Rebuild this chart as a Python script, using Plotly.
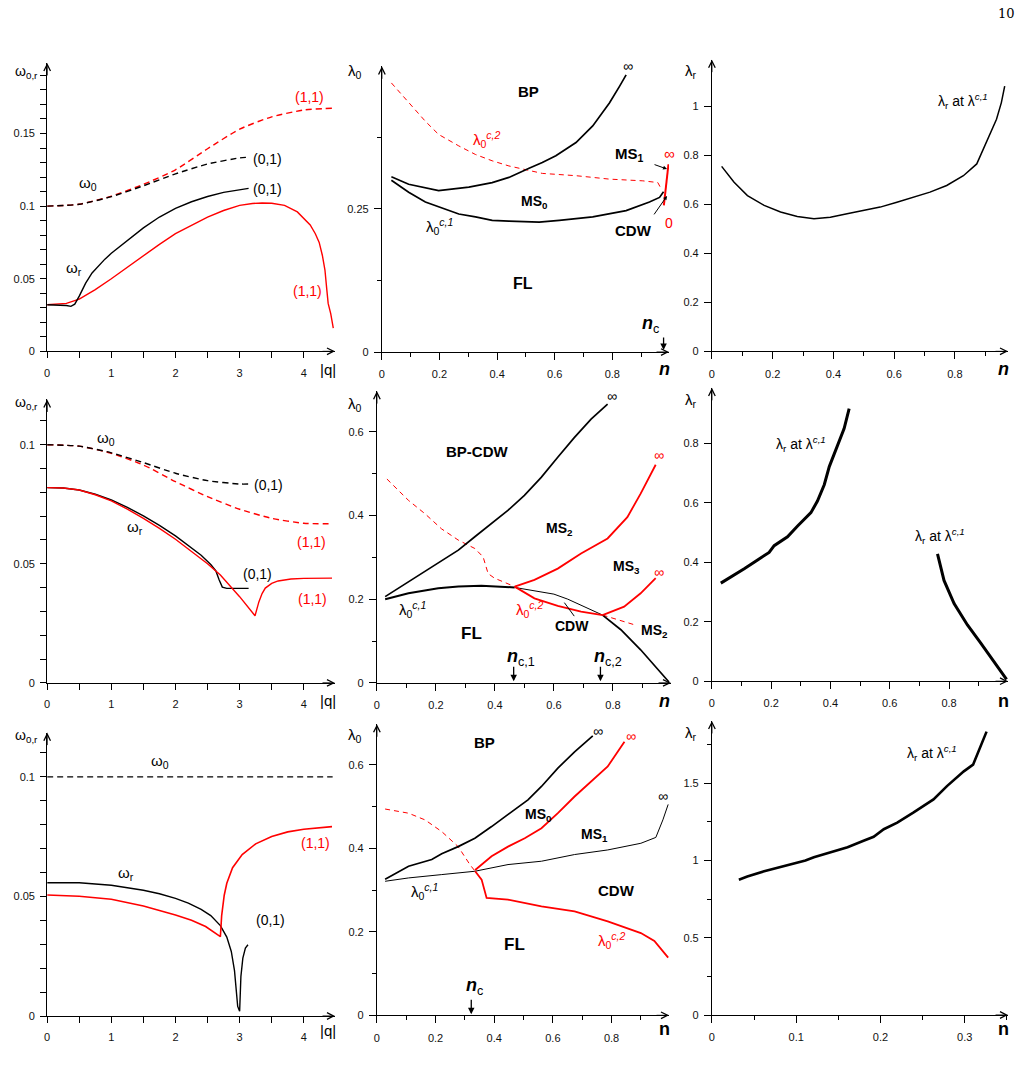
import plotly.graph_objects as go

W, H = 1022, 1079
FONT = "Liberation Sans, Arial, sans-serif"
RED = "#ff0000"

# ---------------- data ----------------
# Row 1, left: omega vs |q|
q1_w0_01_x = [0, 0.5, 1.0, 1.5, 2.0, 2.5, 3.0, 3.14]
q1_w0_01_y = [0.1000, 0.1013, 0.1065, 0.1140, 0.1222, 0.1290, 0.1332, 0.1337]
q1_w0_11_x = [0, 0.5, 1.0, 1.5, 2.0, 2.5, 3.0, 3.5, 4.0, 4.44]
q1_w0_11_y = [0.1000, 0.1013, 0.1068, 0.1150, 0.1250, 0.1395, 0.1530, 0.1615, 0.1662, 0.1674]
q1_wr_01_x = [0, 0.2, 0.3, 0.37, 0.43, 0.5, 0.6, 0.7, 0.8, 0.9, 1.0, 1.25, 1.5, 1.75, 2.0, 2.25, 2.5, 2.75, 3.0, 3.14]
q1_wr_01_y = [0.0321, 0.0321, 0.0316, 0.0310, 0.0325, 0.0380, 0.0470, 0.0540, 0.0590, 0.0635, 0.0675, 0.0765, 0.0850, 0.0925, 0.0985, 0.1030, 0.1066, 0.1095, 0.1113, 0.1122]
q1_wr_11_x = [0, 0.3, 0.5, 0.75, 1.0, 1.25, 1.5, 1.75, 2.0, 2.25, 2.5, 2.75, 3.0, 3.2, 3.35, 3.5, 3.7, 3.9, 4.0, 4.1, 4.18, 4.24, 4.29, 4.33, 4.36, 4.38, 4.42, 4.46]
q1_wr_11_y = [0.0321, 0.0330, 0.0360, 0.0425, 0.0500, 0.0580, 0.0660, 0.0737, 0.0810, 0.0870, 0.0925, 0.0970, 0.1005, 0.1018, 0.1022, 0.1020, 0.1005, 0.0960, 0.0917, 0.0870, 0.0810, 0.0750, 0.0660, 0.0560, 0.0420, 0.0330, 0.0260, 0.0160]

# Row 2, left
q2_w0_01_x = [0, 0.5, 1.0, 1.5, 2.0, 2.5, 3.0, 3.14]
q2_w0_01_y = [0.1000, 0.0994, 0.0966, 0.0925, 0.0880, 0.0849, 0.0835, 0.0835]
q2_w0_11_x = [0, 0.5, 1.0, 1.5, 2.0, 2.5, 3.0, 3.5, 4.0, 4.44]
q2_w0_11_y = [0.1000, 0.0994, 0.0964, 0.0915, 0.0845, 0.0782, 0.0729, 0.0691, 0.0670, 0.0668]
q2_wr_01_x = [0, 0.25, 0.5, 0.75, 1.0, 1.25, 1.5, 1.75, 2.0, 2.2, 2.4, 2.55, 2.63, 2.68, 2.73, 2.8, 3.14]
q2_wr_01_y = [0.0820, 0.0818, 0.0810, 0.0792, 0.0768, 0.0737, 0.0701, 0.0661, 0.0617, 0.0578, 0.0536, 0.0497, 0.0470, 0.0433, 0.0402, 0.0397, 0.0397]
q2_wr_11_x = [0, 0.25, 0.5, 0.75, 1.0, 1.25, 1.5, 1.75, 2.0, 2.25, 2.5, 2.7, 3.0, 3.24, 3.27, 3.3, 3.35, 3.4, 3.5, 3.6, 3.8, 4.0, 4.44]
q2_wr_11_y = [0.0820, 0.0818, 0.0810, 0.0790, 0.0764, 0.0730, 0.0691, 0.0649, 0.0603, 0.0553, 0.0500, 0.0453, 0.0362, 0.0282, 0.0310, 0.0340, 0.0375, 0.0398, 0.0418, 0.0428, 0.0436, 0.0439, 0.0440]

# Row 3, left
q3_w0_x = [0, 4.45]
q3_w0_y = [0.1, 0.1]
q3_wr_01_x = [0, 0.5, 1.0, 1.5, 1.75, 2.0, 2.2, 2.4, 2.55, 2.7, 2.8, 2.87, 2.92, 2.95, 2.97, 3.0, 3.02, 3.05, 3.09, 3.13]
q3_wr_01_y = [0.0557, 0.0557, 0.0547, 0.0526, 0.0511, 0.0492, 0.0472, 0.0446, 0.0420, 0.0378, 0.0330, 0.0270, 0.0190, 0.0110, 0.0040, 0.0020, 0.0166, 0.0242, 0.0284, 0.0298]
q3_wr_11_x = [0, 0.5, 1.0, 1.5, 2.0, 2.25, 2.47, 2.6, 2.70, 2.72, 2.74, 2.76, 2.80, 2.89, 3.04, 3.25, 3.5, 3.75, 4.0, 4.44]
q3_wr_11_y = [0.0506, 0.0501, 0.0488, 0.0460, 0.0422, 0.0400, 0.0374, 0.0352, 0.0332, 0.0420, 0.0470, 0.0505, 0.0555, 0.0620, 0.0675, 0.0720, 0.0751, 0.0770, 0.0781, 0.0792]

# Row 1, middle: lambda_0 vs n
p1_up_x = [0.033, 0.093, 0.197, 0.244, 0.302, 0.383, 0.441, 0.511, 0.557, 0.604, 0.674, 0.732, 0.790, 0.825, 0.848]
p1_up_y = [0.306, 0.293, 0.282, 0.285, 0.288, 0.296, 0.305, 0.321, 0.331, 0.343, 0.366, 0.395, 0.435, 0.464, 0.484]
p1_c1_x = [0.033, 0.093, 0.151, 0.209, 0.267, 0.325, 0.383, 0.441, 0.546, 0.616, 0.732, 0.848, 0.929, 0.964, 0.978]
p1_c1_y = [0.300, 0.279, 0.262, 0.251, 0.241, 0.236, 0.230, 0.2286, 0.227, 0.230, 0.236, 0.247, 0.262, 0.270, 0.280]
p1_c2_x = [0.033, 0.093, 0.151, 0.197, 0.267, 0.325, 0.383, 0.441, 0.511, 0.557, 0.674, 0.790, 0.906, 0.958, 0.972]
p1_c2_y = [0.470, 0.435, 0.403, 0.380, 0.360, 0.345, 0.334, 0.325, 0.317, 0.312, 0.308, 0.302, 0.299, 0.296, 0.283]
p1_ms_x = [0.979, 0.986, 0.995]
p1_ms_y = [0.256, 0.290, 0.328]
p1_nc = 0.981

# Row 1, right: lambda_r vs n
p1_lr_x = [0.032, 0.073, 0.117, 0.172, 0.226, 0.281, 0.336, 0.390, 0.445, 0.500, 0.554, 0.609, 0.664, 0.718, 0.773, 0.828, 0.872, 0.904, 0.937, 0.953, 0.964]
p1_lr_y = [0.754, 0.689, 0.635, 0.595, 0.568, 0.550, 0.541, 0.547, 0.561, 0.574, 0.588, 0.608, 0.628, 0.649, 0.676, 0.716, 0.764, 0.851, 0.946, 1.014, 1.081]

# Row 2, middle
p2_up_x = [0.028, 0.107, 0.197, 0.276, 0.332, 0.388, 0.444, 0.500, 0.557, 0.613, 0.669, 0.726, 0.782]
p2_up_y = [0.206, 0.242, 0.281, 0.317, 0.349, 0.380, 0.412, 0.448, 0.491, 0.539, 0.586, 0.630, 0.666]
p2_c1a_x = [0.028, 0.107, 0.208, 0.276, 0.354, 0.467]
p2_c1a_y = [0.200, 0.214, 0.226, 0.230, 0.232, 0.228]
p2_c1b_x = [0.467, 0.534, 0.600, 0.647, 0.726, 0.765]
p2_c1b_y = [0.228, 0.220, 0.212, 0.200, 0.175, 0.162]
p2_c1c_x = [0.765, 0.827, 0.894, 0.951, 0.990]
p2_c1c_y = [0.162, 0.127, 0.079, 0.032, 0.002]
p2_c2d_x = [0.034, 0.107, 0.163, 0.219, 0.276, 0.332, 0.360, 0.377, 0.399, 0.467]
p2_c2d_y = [0.487, 0.436, 0.404, 0.368, 0.341, 0.321, 0.301, 0.261, 0.250, 0.230]
p2_c2_x = [0.467, 0.534, 0.613, 0.692, 0.765]
p2_c2_y = [0.230, 0.202, 0.184, 0.170, 0.162]
p2_c2e_x = [0.765, 0.872]
p2_c2e_y = [0.162, 0.139]
p2_m23_x = [0.467, 0.534, 0.613, 0.692, 0.782, 0.849, 0.894, 0.945]
p2_m23_y = [0.230, 0.246, 0.273, 0.309, 0.345, 0.396, 0.452, 0.521]
p2_m32_x = [0.765, 0.838, 0.894, 0.945]
p2_m32_y = [0.162, 0.182, 0.214, 0.250]
p2_nc1 = 0.465
p2_nc2 = 0.760

# Row 2, right
p2_lrA_x = [0.030, 0.064, 0.109, 0.154, 0.193, 0.210, 0.255, 0.289, 0.334, 0.356, 0.379, 0.396, 0.418, 0.435, 0.446, 0.463]
p2_lrA_y = [0.330, 0.350, 0.378, 0.408, 0.433, 0.456, 0.486, 0.522, 0.567, 0.606, 0.661, 0.722, 0.778, 0.822, 0.850, 0.917]
p2_lrB_x = [0.761, 0.783, 0.817, 0.862, 0.907, 0.952, 0.994]
p2_lrB_y = [0.428, 0.339, 0.261, 0.189, 0.128, 0.067, 0.006]

# Row 3, middle
p3_up_x = [0.028, 0.108, 0.187, 0.221, 0.277, 0.334, 0.391, 0.447, 0.515, 0.561, 0.617, 0.674, 0.736]
p3_up_y = [0.326, 0.357, 0.373, 0.387, 0.404, 0.424, 0.452, 0.480, 0.516, 0.548, 0.592, 0.631, 0.669]
p3_c1_x = [0.028, 0.108, 0.221, 0.334, 0.447, 0.561, 0.674, 0.787, 0.900, 0.951, 0.975, 0.993]
p3_c1_y = [0.321, 0.329, 0.337, 0.345, 0.361, 0.369, 0.385, 0.396, 0.412, 0.426, 0.468, 0.505]
p3_c2d_x = [0.028, 0.108, 0.164, 0.221, 0.277, 0.317, 0.335]
p3_c2d_y = [0.494, 0.484, 0.468, 0.440, 0.404, 0.361, 0.345]
p3_c2_x = [0.335, 0.357, 0.374, 0.447, 0.561, 0.674, 0.787, 0.900, 0.946, 0.993]
p3_c2_y = [0.345, 0.325, 0.281, 0.277, 0.261, 0.249, 0.225, 0.197, 0.178, 0.138]
p3_ms_x = [0.335, 0.391, 0.447, 0.504, 0.561, 0.617, 0.674, 0.730, 0.787, 0.844]
p3_ms_y = [0.348, 0.381, 0.404, 0.424, 0.448, 0.484, 0.524, 0.560, 0.596, 0.655]
p3_nc = 0.323

# Row 3, right
p3_lr_x = [0.032, 0.042, 0.062, 0.082, 0.101, 0.111, 0.121, 0.141, 0.161, 0.180, 0.192, 0.204, 0.220, 0.239, 0.263, 0.279, 0.299, 0.310, 0.326]
p3_lr_y = [0.876, 0.897, 0.931, 0.961, 0.989, 1.000, 1.021, 1.054, 1.086, 1.128, 1.154, 1.203, 1.246, 1.310, 1.396, 1.482, 1.578, 1.621, 1.835]

# tick steps (major, minor)
q_tick_step, q_minor_step = 1, 0.5
n_tick_step, n_minor_step = 0.2, 0.1
n_small_step, n_small_minor = 0.1, 0.05
w_tick_step, w_minor_step = 0.05, 0.01
l0_top_step, l0_top_minor = 0.25, 0.125
l0_step, l0_minor = 0.2, 0.1
lr_step = 0.2
lr_bot_step, lr_bot_minor = 0.5, 0.25

# ---------------- layout helpers ----------------
panels = [
    dict(x0=44.3, x1=333, xmax=4.487, y0=353.3, y1=63.3, ymax=0.1986,
         xt=q_tick_step, xm=q_minor_step, yt=w_tick_step, ym=w_minor_step, kind="q"),
    dict(x0=380, x1=668, xmax=0.997, y0=354, y1=66.7, ymax=0.499,
         xt=n_tick_step, xm=n_minor_step, yt=l0_top_step, ym=l0_top_minor, kind="n"),
    dict(x0=711, x1=1008, xmax=0.975, y0=353.3, y1=60, ymax=1.189,
         xt=n_tick_step, xm=n_minor_step, yt=lr_step, ym=None, kind="n"),
    dict(x0=44.3, x1=333, xmax=4.487, y0=686.7, y1=401.7, ymax=0.119,
         xt=q_tick_step, xm=q_minor_step, yt=w_tick_step, ym=w_minor_step, kind="q"),
    dict(x0=375, x1=670, xmax=0.997, y0=686.7, y1=393.3, ymax=0.697,
         xt=n_tick_step, xm=n_minor_step, yt=l0_step, ym=l0_minor, kind="n"),
    dict(x0=711, x1=1008, xmax=0.999, y0=685, y1=390, ymax=0.987,
         xt=n_tick_step, xm=n_minor_step, yt=lr_step, ym=None, kind="n"),
    dict(x0=44.3, x1=333, xmax=4.487, y0=1021.7, y1=736.7, ymax=0.1185,
         xt=q_tick_step, xm=q_minor_step, yt=w_tick_step, ym=w_minor_step, kind="q"),
    dict(x0=375, x1=668, xmax=0.996, y0=1021, y1=728.3, ymax=0.697,
         xt=n_tick_step, xm=n_minor_step, yt=l0_step, ym=l0_minor, kind="n"),
    dict(x0=711, x1=1008, xmax=0.3515, y0=1020.7, y1=725, ymax=1.904,
         xt=n_small_step, xm=n_small_minor, yt=lr_bot_step, ym=lr_bot_minor, kind="n"),
]


def PX(x):
    return x / W


def PY(y):
    return 1 - y / H


fig = go.Figure()
layout = dict(width=W, height=H, margin=dict(l=0, r=0, t=0, b=0), autosize=False,
              paper_bgcolor="white", plot_bgcolor="white", showlegend=False,
              font=dict(family=FONT, color="black"))
annotations = []

for i, p in enumerate(panels):
    k = "" if i == 0 else str(i + 1)
    big = 6 if p["kind"] == "q" else 7
    small = 6 if p["kind"] == "q" else 4
    xa = dict(domain=[PX(p["x0"]), PX(p["x1"])], range=[0, p["xmax"]], anchor="y" + k,
              showgrid=False, zeroline=False, showline=True, linecolor="black", linewidth=1,
              ticks="outside", ticklen=big, tickwidth=1, tickcolor="black",
              tickmode="linear", tick0=0, dtick=p["xt"],
              tickfont=dict(family=FONT, size=11, color="#111"), ticklabelstandoff=5,
              minor=dict(tickmode="linear", tick0=0, dtick=p["xm"], ticks="outside",
                         ticklen=small, tickcolor="black", tickwidth=1, showgrid=False),
              fixedrange=True)
    ya = dict(domain=[PY(p["y0"]), PY(p["y1"])], range=[0, p["ymax"]], anchor="x" + k,
              showgrid=False, zeroline=False, showline=True, linecolor="black", linewidth=1,
              ticks="outside", ticklen=big, tickwidth=1, tickcolor="black",
              tickmode="linear", tick0=0, dtick=p["yt"],
              tickfont=dict(family=FONT, size=11, color="#111"), ticklabelstandoff=3,
              fixedrange=True)
    if p["ym"] is not None:
        ya["minor"] = dict(tickmode="linear", tick0=0, dtick=p["ym"], ticks="outside",
                           ticklen=small, tickcolor="black", tickwidth=1, showgrid=False)
    layout["xaxis" + k] = xa
    layout["yaxis" + k] = ya
    # axis arrows
    annotations.append(dict(xref="paper", yref="paper", x=PX(p["x1"]), y=PY(p["y0"]),
                            ax=-14, ay=0, text="", showarrow=True, arrowhead=5,
                            arrowsize=1.3, arrowwidth=1, arrowcolor="black"))
    annotations.append(dict(xref="paper", yref="paper", x=PX(p["x0"]), y=PY(p["y1"]),
                            ax=0, ay=14, text="", showarrow=True, arrowhead=5,
                            arrowsize=1.3, arrowwidth=1, arrowcolor="black"))


def line(n, x, y, color="black", width=1.3, dash=None, shape="linear"):
    k = "" if n == 1 else str(n)
    fig.add_trace(go.Scatter(x=x, y=y, mode="lines", xaxis="x" + k, yaxis="y" + k,
                             line=dict(color=color, width=width, dash=dash, shape=shape,
                                       smoothing=0.6), hoverinfo="skip"))


DASH = "6px,4px"
# panel 1
line(1, q1_w0_11_x, q1_w0_11_y, RED, 1.4, DASH, "spline")
line(1, q1_w0_01_x, q1_w0_01_y, "black", 1.4, DASH, "spline")
line(1, q1_wr_11_x, q1_wr_11_y, RED, 1.4)
line(1, q1_wr_01_x, q1_wr_01_y, "black", 1.4)
# panel 2
line(2, p1_c2_x, p1_c2_y, RED, 1.0, "5px,4px")
line(2, p1_up_x, p1_up_y, "black", 1.7)
line(2, p1_c1_x, p1_c1_y, "black", 1.7)
line(2, p1_ms_x, p1_ms_y, RED, 2.0)
# panel 3
line(3, p1_lr_x, p1_lr_y, "black", 1.5)
# panel 4
line(4, q2_w0_11_x, q2_w0_11_y, RED, 1.4, DASH, "spline")
line(4, q2_w0_01_x, q2_w0_01_y, "black", 1.4, DASH, "spline")
line(4, q2_wr_01_x, q2_wr_01_y, "black", 1.4)
line(4, q2_wr_11_x, q2_wr_11_y, RED, 1.4)
# panel 5
line(5, p2_c2d_x, p2_c2d_y, RED, 1.0, "5px,4px")
line(5, p2_c2e_x, p2_c2e_y, RED, 1.0, "5px,4px")
line(5, p2_up_x, p2_up_y, "black", 1.7)
line(5, p2_c1a_x, p2_c1a_y, "black", 2.0)
line(5, p2_c1b_x, p2_c1b_y, "black", 1.0)
line(5, p2_c1c_x, p2_c1c_y, "black", 1.7)
line(5, p2_c2_x, p2_c2_y, RED, 1.8)
line(5, p2_m23_x, p2_m23_y, RED, 1.8)
line(5, p2_m32_x, p2_m32_y, RED, 1.8)
# panel 6
line(6, p2_lrA_x, p2_lrA_y, "black", 3.0)
line(6, p2_lrB_x, p2_lrB_y, "black", 3.0)
# panel 7
line(7, q3_w0_x, q3_w0_y, "black", 1.4, DASH)
line(7, q3_wr_01_x, q3_wr_01_y, "black", 1.4)
line(7, q3_wr_11_x, q3_wr_11_y, RED, 1.6)
# panel 8
line(8, p3_c2d_x, p3_c2d_y, RED, 1.0, "5px,4px")
line(8, p3_up_x, p3_up_y, "black", 1.7)
line(8, p3_c1_x, p3_c1_y, "black", 1.0)
line(8, p3_c2_x, p3_c2_y, RED, 1.8)
line(8, p3_ms_x, p3_ms_y, RED, 1.8)
# panel 9
line(9, p3_lr_x, p3_lr_y, "black", 2.6)


def txt(x, y, t, size=14, color="black", xanchor="center"):
    annotations.append(dict(xref="paper", yref="paper", x=PX(x), y=PY(y), text=t,
                            showarrow=False, xanchor=xanchor, yanchor="middle",
                            font=dict(family=FONT, size=size, color=color)))


def arrow(xt, yt, xs, ys, head=2, size=1.0, width=1.0):
    annotations.append(dict(xref="paper", yref="paper", x=PX(xt), y=PY(yt),
                            ax=xs - xt, ay=ys - yt, text="", showarrow=True,
                            arrowhead=head, arrowsize=size, arrowwidth=width,
                            arrowcolor="black"))


W0R = "ω<sub>0,r</sub>"
L0 = "λ<sub>0</sub>"
LR = "λ<sub>r</sub>"
LC1 = "λ<sub>0</sub><sup><i>c,1</i></sup>"
LC2 = "λ<sub>0</sub><sup><i>c,2</i></sup>"
LRLAB = "λ<sub>r</sub> at λ<sup><i>c,1</i></sup>"
NI = "<b><i>n</i></b>"
NB = "<b>n</b>"
INF = "∞"

# panel 1 labels
txt(24, 72, W0R, 14)
txt(326, 372, "|q|", 15)
txt(307, 98, "(1,1)", 14, RED)
txt(265, 160, "(0,1)", 14)
txt(265, 190, "(0,1)", 14)
txt(85, 185, "ω<sub>0</sub>", 15)
txt(71, 270, "ω<sub>r</sub>", 15)
txt(305, 293, "(1,1)", 14, RED)
# panel 2
txt(353, 72, L0, 15)
txt(663, 371, NI, 18)
txt(527, 92, "<b>BP</b>", 15)
txt(627, 66, INF, 14)
txt(485, 140, LC2, 15, RED)
txt(628, 155, "<b>MS<sub>1</sub></b>", 15)
txt(668, 154, INF, 15, RED)
txt(533, 203, "<b>MS<sub>0</sub></b>", 14)
txt(668, 224, "0", 14, RED)
txt(632, 232, "<b>CDW</b>", 15)
txt(438, 228, LC1, 15)
txt(522, 285, "<b>FL</b>", 16)
txt(649, 326, NI + "<sub>c</sub>", 18)
arrow(666, 170, 652, 165, head=2, size=0.8)
arrow(666, 197, 652, 217, head=2, size=0.8)
arrow(380 + p1_nc * 288, 352, 380 + p1_nc * 288, 338, head=2, size=1.0, width=1.3)
# panel 3
txt(690, 72, LR, 15)
txt(1003, 371, NI, 18)
txt(963, 102, LRLAB, 14)
# panel 4
txt(24, 405, W0R, 14)
txt(326, 704, "|q|", 15)
txt(103, 441, "ω<sub>0</sub>", 15)
txt(266, 488, "(0,1)", 14)
txt(309, 545, "(1,1)", 14, RED)
txt(132, 530, "ω<sub>r</sub>", 15)
txt(255, 577, "(0,1)", 14)
txt(310, 602, "(1,1)", 14, RED)
# panel 5
txt(353, 407, L0, 15)
txt(663, 705, NI, 18)
txt(611, 398, INF, 14)
txt(475, 454, "<b>BP-CDW</b>", 15)
txt(658, 458, INF, 14, RED)
txt(558, 532, "<b>MS<sub>2</sub></b>", 14)
txt(625, 570, "<b>MS<sub>3</sub></b>", 14)
txt(658, 575, INF, 14, RED)
txt(411, 613, LC1, 15)
txt(470, 637, "<b>FL</b>", 17)
txt(529, 613, LC2, 15, RED)
txt(571, 630, "<b>CDW</b>", 14)
txt(653, 635, "<b>MS<sub>2</sub></b>", 14)
txt(520, 661, NI + "<sub>c,1</sub>", 18)
txt(607, 661, NI + "<sub>c,2</sub>", 18)
arrow(563, 606, 574, 621, head=0, width=1.0)
arrow(375 + p2_nc1 * 295, 685, 375 + p2_nc1 * 295, 669, head=2, size=1.0, width=1.3)
arrow(375 + p2_nc2 * 295, 685, 375 + p2_nc2 * 295, 669, head=2, size=1.0, width=1.3)
# panel 6
txt(690, 403, LR, 15)
txt(1003, 705, NB, 18)
txt(800, 446, LRLAB, 14)
txt(940, 539, LRLAB, 14)
# panel 7
txt(24, 740, W0R, 14)
txt(326, 1036, "|q|", 15)
txt(157, 766, "ω<sub>0</sub>", 15)
txt(313, 848, "(1,1)", 14, RED)
txt(123, 878, "ω<sub>r</sub>", 15)
txt(268, 925, "(0,1)", 14)
# panel 8
txt(353, 740, L0, 15)
txt(663, 1035, NB, 18)
txt(483, 747, "<b>BP</b>", 15)
txt(597, 735, INF, 14)
txt(630, 740, INF, 14, RED)
txt(662, 800, INF, 14)
txt(537, 820, "<b>MS<sub>0</sub></b>", 14)
txt(593, 840, "<b>MS<sub>1</sub></b>", 14)
txt(615, 895, "<b>CDW</b>", 15)
txt(423, 896, LC1, 15)
txt(513, 950, "<b>FL</b>", 17)
txt(611, 946, LC2, 15, RED)
txt(473, 992, NI + "<sub>c</sub>", 18)
arrow(375 + p3_nc * 293, 1020, 375 + p3_nc * 293, 1004, head=2, size=1.0, width=1.3)
# panel 9
txt(690, 738, LR, 15)
txt(1003, 1035, NB, 18)
txt(932, 757, LRLAB, 14)

# page number
annotations.append(dict(xref="paper", yref="paper", x=PX(1006), y=PY(14), text="10",
                        showarrow=False, xanchor="center", yanchor="middle",
                        font=dict(family="DejaVu Serif, Liberation Serif, serif", size=13,
                                  color="black")))

layout["annotations"] = annotations
fig.update_layout(**layout)
fig.write_html("out.html")
